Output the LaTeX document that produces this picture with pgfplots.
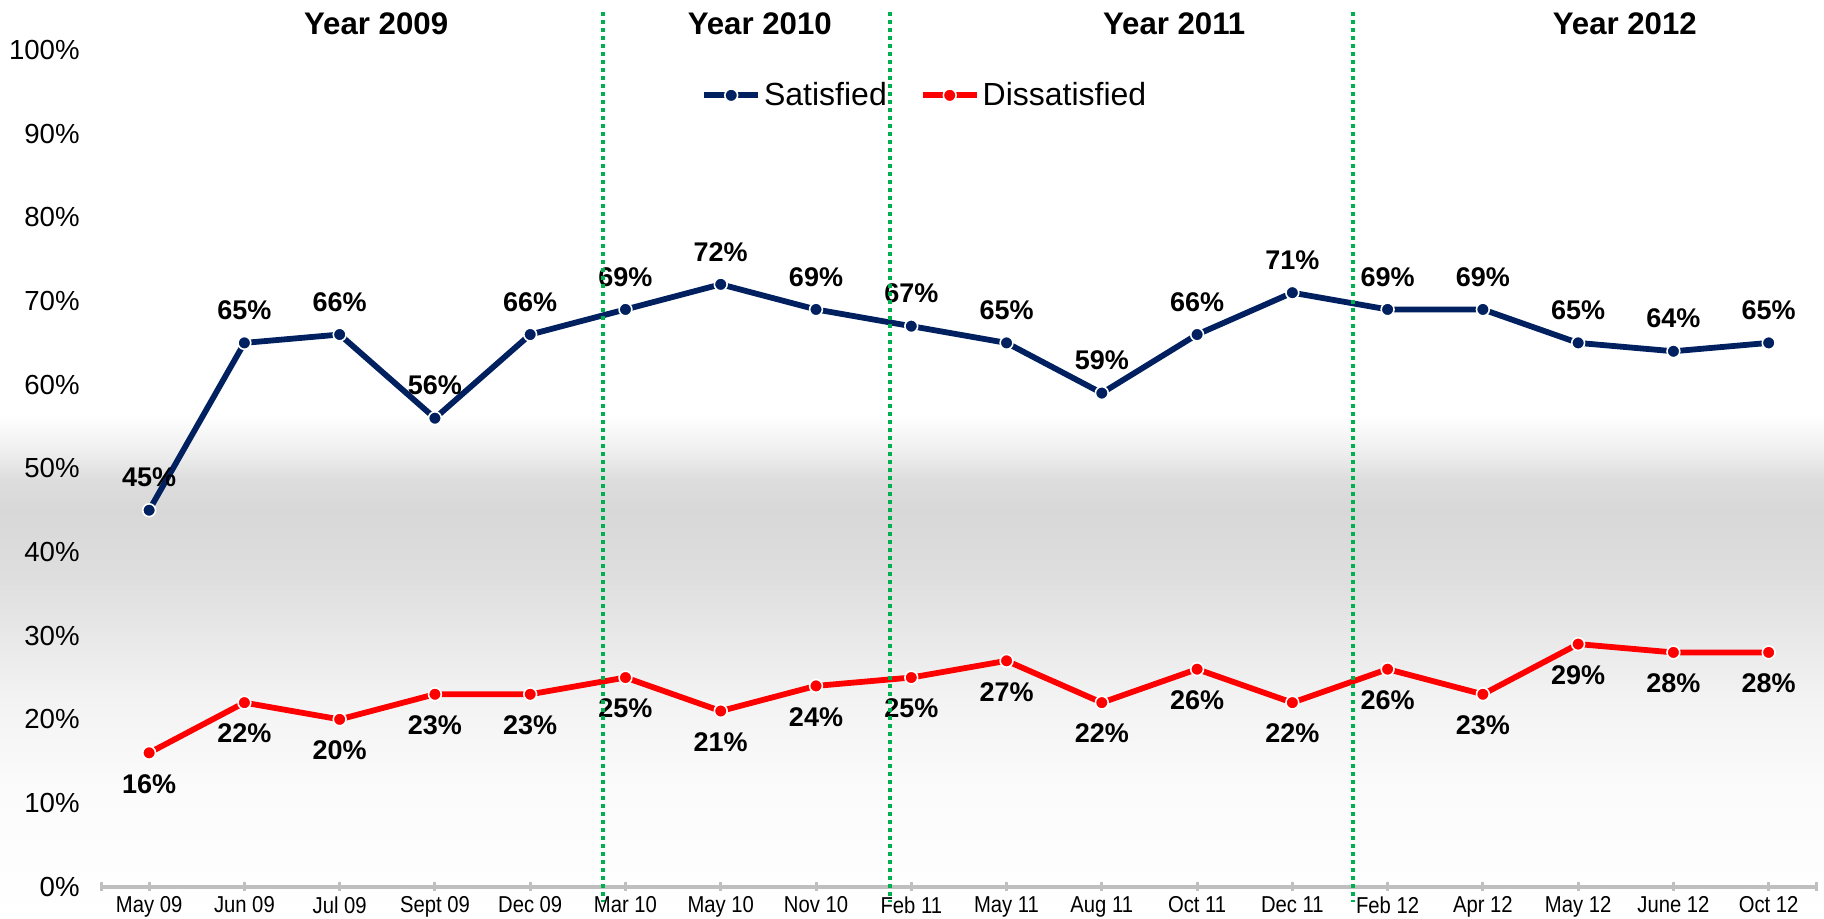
\documentclass[border=0pt]{standalone}
\usepackage{fontspec}
\setmainfont{Liberation Sans}
\newfontfamily\narrowfont[FakeStretch=0.88]{Liberation Sans}
\usepackage{pgfplots}
\pgfplotsset{compat=1.18}
\definecolor{satblue}{HTML}{002060}
\definecolor{dissred}{HTML}{FF0000}
\definecolor{divgreen}{HTML}{00B050}
\definecolor{axisgray}{HTML}{BFBFBF}
\definecolor{bgA}{HTML}{EFEFEF}
\definecolor{bgB}{HTML}{DDDDDD}
\definecolor{bgC}{HTML}{D8D8D8}
\definecolor{bgD}{HTML}{DEDEDE}
\definecolor{bgE}{HTML}{E8E8E8}
\definecolor{bgF}{HTML}{F3F3F3}
\definecolor{bgG}{HTML}{FBFBFB}

\begin{document}
\begin{tikzpicture}
\path[use as bounding box] (0,0) rectangle (912pt,459.5pt);
\fill[white] (0,0) rectangle (912pt,459.5pt);
% background band, piecewise vertical gradient
\shade[top color=white, bottom color=bgA] (0,234.2pt) rectangle (912pt,252pt);
\shade[top color=bgA, bottom color=bgB] (0,219.2pt) rectangle (912pt,234.5pt);
\shade[top color=bgB, bottom color=bgC] (0,204.2pt) rectangle (912pt,219.5pt);
\shade[top color=bgC, bottom color=bgD] (0,171.2pt) rectangle (912pt,204.5pt);
\shade[top color=bgD, bottom color=bgE] (0,142.2pt) rectangle (912pt,171.5pt);
\shade[top color=bgE, bottom color=bgF] (0,109.2pt) rectangle (912pt,142.5pt);
\shade[top color=bgF, bottom color=bgG] (0,64.2pt) rectangle (912pt,109.5pt);
\shade[top color=bgG, bottom color=white] (0,0) rectangle (912pt,64.5pt);

\begin{axis}[
  at={(50.75pt,16.15pt)}, anchor=south west,
  width=857.4pt, height=418.3pt, scale only axis,
  xmin=-0.5, xmax=17.5, ymin=0, ymax=100,
  clip=false,
  axis x line=bottom, axis y line=left,
  x axis line style={draw=axisgray, line width=2pt, -},
  y axis line style={draw=none},
  xtick align=center,
  major tick length=4.5pt,
  every tick/.style={draw=axisgray, line width=1.5pt},
  xtick={0,...,17},
  xticklabels={May 09, Jun 09, Jul 09, Sept 09, Dec 09, Mar 10, May 10, Nov 10, Feb 11, May 11, Aug 11, Oct 11, Dec 11, Feb 12, Apr 12, May 12, June 12, Oct 12},
  extra x ticks={-0.5,17.5}, extra x tick labels={},
  ytick={0,10,...,100},
  yticklabels={0\%,10\%,20\%,30\%,40\%,50\%,60\%,70\%,80\%,90\%,100\%},
  ytick style={draw=none},
  yticklabel style={font=\fontsize{13.8}{16}\selectfont, anchor=east, inner sep=0pt, xshift=-8.5pt},
  xticklabel style={font=\narrowfont\fontsize{11.5}{13}\selectfont, anchor=north, inner sep=0pt, yshift=-2.4pt},
  legend style={at={(0.4804,0.9459)}, anchor=center, draw=none, fill=none,
    legend columns=2, font=\fontsize{16}{19}\selectfont,
    /tikz/every even column/.append style={column sep=15pt},
    inner sep=0pt, nodes={inner sep=1.5pt}},
  legend image code/.code={\draw[mark repeat=2,mark phase=2,#1] plot coordinates {(0pt,0pt) (13.5pt,0pt) (27pt,0pt)};},
]
\addplot[satblue, line width=2.9pt, mark=*, mark size=3.2pt,
  mark options={fill=satblue, draw=white, line width=0.8pt},
  nodes near coords={\pgfmathprintnumber[assume math mode=true]{\pgfplotspointmeta}\%},
  nodes near coords style={font=\bfseries\fontsize{13.5}{15}\selectfont, text=black, anchor=center, yshift=16.3pt}]
coordinates {(0,45) (1,65) (2,66) (3,56) (4,66) (5,69) (6,72) (7,69) (8,67) (9,65) (10,59) (11,66) (12,71) (13,69) (14,69) (15,65) (16,64) (17,65)};
\addlegendentry{Satisfied}
\addplot[dissred, line width=2.9pt, mark=*, mark size=3.2pt,
  mark options={fill=dissred, draw=white, line width=0.8pt},
  nodes near coords={\pgfmathprintnumber[assume math mode=true]{\pgfplotspointmeta}\%},
  nodes near coords style={font=\bfseries\fontsize{13.5}{15}\selectfont, text=black, anchor=center, yshift=-15.5pt}]
coordinates {(0,16) (1,22) (2,20) (3,23) (4,23) (5,25) (6,21) (7,24) (8,25) (9,27) (10,22) (11,26) (12,22) (13,26) (14,23) (15,29) (16,28) (17,28)};
\addlegendentry{Dissatisfied}

\node[font=\bfseries\fontsize{15.6}{18}\selectfont] at (axis cs:2.383,103.2) {Year 2009};
\node[font=\bfseries\fontsize{15.6}{18}\selectfont] at (axis cs:6.41,103.2) {Year 2010};
\node[font=\bfseries\fontsize{15.6}{18}\selectfont] at (axis cs:10.76,103.2) {Year 2011};
\node[font=\bfseries\fontsize{15.6}{18}\selectfont] at (axis cs:15.49,103.2) {Year 2012};

\coordinate (t1) at (axis cs:4.76,104.5);  \coordinate (b1) at (axis cs:4.76,-1.8);
\coordinate (t2) at (axis cs:7.78,104.5);  \coordinate (b2) at (axis cs:7.78,-1.8);
\coordinate (t3) at (axis cs:12.64,104.5); \coordinate (b3) at (axis cs:12.64,-1.8);
\end{axis}
\draw[divgreen, line width=2pt, dash pattern=on 2pt off 2pt] (t1) -- (b1);
\draw[divgreen, line width=2pt, dash pattern=on 2pt off 2pt] (t2) -- (b2);
\draw[divgreen, line width=2pt, dash pattern=on 2pt off 2pt] (t3) -- (b3);
\end{tikzpicture}
\end{document}
